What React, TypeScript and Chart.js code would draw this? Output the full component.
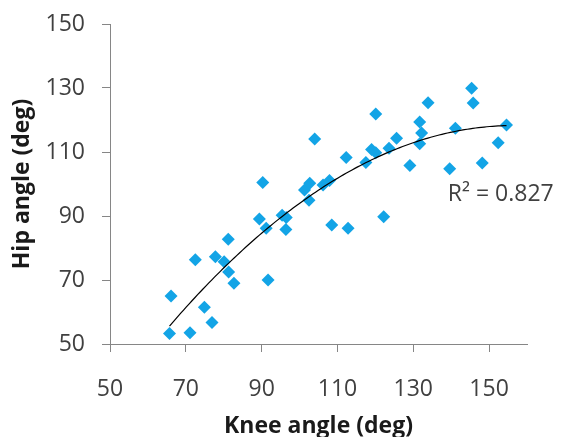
import React, { useEffect, useRef } from "react";
import { Chart, registerables } from "chart.js";

Chart.register(...registerables);

// Knee angle (deg) values
const kneeAngles: number[] = [
  65.7, 66.1, 71.1, 72.5, 74.9, 76.9, 77.8, 80.1, 81.2, 81.3,
  82.7, 89.4, 90.3, 91.2, 91.7, 95.4, 96.5, 96.4, 101.3, 102.5,
  102.7, 104.0, 106.2, 107.9, 108.5, 112.3, 112.8, 117.5, 119.0, 120.1,
  120.1, 122.2, 123.6, 125.6, 129.1, 131.7, 132.2, 131.7, 133.9, 139.6,
  141.1, 145.4, 145.8, 148.2, 152.4, 154.6,
];
// Hip angle (deg) values
const hipAngles: number[] = [
  53.3, 65.0, 53.5, 76.3, 61.5, 56.7, 77.3, 75.7, 82.7, 72.5,
  69.0, 89.1, 100.5, 86.2, 70.0, 90.2, 89.5, 85.8, 98.1, 94.9,
  100.2, 114.1, 99.7, 101.1, 87.2, 108.3, 86.2, 106.7, 110.8, 109.8,
  121.9, 89.8, 111.2, 114.3, 105.8, 119.4, 115.9, 112.6, 125.4, 104.8,
  117.4, 129.9, 125.3, 106.6, 112.9, 118.4,
];

const xTicks: number[] = [50, 70, 90, 110, 130, 150];
const yTicks: number[] = [50, 70, 90, 110, 130, 150];
const xTitle = "Knee angle (deg)";
const yTitle = "Hip angle (deg)";
const r2Label = "R\u00B2 = 0.827";
const r2Anchor = { x: 139.1, y: 96.6 }; // data coordinates of label left/middle

// least-squares quadratic fit of hip on knee
function quadFit(xs: number[], ys: number[]) {
  const n = xs.length;
  const mx = xs.reduce((a, b) => a + b, 0) / n;
  const s = [0, 0, 0, 0, 0];
  const t = [0, 0, 0];
  for (let i = 0; i < n; i++) {
    const u = xs[i] - mx;
    let p = 1;
    for (let k = 0; k < 5; k++) {
      s[k] += p;
      if (k < 3) t[k] += p * ys[i];
      p *= u;
    }
  }
  const A = [
    [s[0], s[1], s[2], t[0]],
    [s[1], s[2], s[3], t[1]],
    [s[2], s[3], s[4], t[2]],
  ];
  for (let c = 0; c < 3; c++) {
    for (let r = c + 1; r < 3; r++) {
      const f = A[r][c] / A[c][c];
      for (let k = c; k < 4; k++) A[r][k] -= f * A[c][k];
    }
  }
  const coef = [0, 0, 0];
  for (let r = 2; r >= 0; r--) {
    let v = A[r][3];
    for (let k = r + 1; k < 3; k++) v -= A[r][k] * coef[k];
    coef[r] = v / A[r][r];
  }
  return (x: number) => {
    const u = x - mx;
    return coef[0] + coef[1] * u + coef[2] * u * u;
  };
}

const r2Plugin = {
  id: "r2label",
  afterDatasetsDraw(chart: any) {
    const { ctx, scales } = chart;
    const px = scales.x.getPixelForValue(r2Anchor.x);
    const py = scales.y.getPixelForValue(r2Anchor.y);
    ctx.save();
    ctx.font = "23px 'Open Sans'";
    ctx.fillStyle = "#404040";
    ctx.textAlign = "left";
    ctx.textBaseline = "middle";
    ctx.fillText(r2Label, px, py);
    ctx.restore();
  },
};

export default function App() {
  const ref = useRef<HTMLCanvasElement | null>(null);
  useEffect(() => {
    if (!ref.current) return;
    const fit = quadFit(kneeAngles, hipAngles);
    const xmin = Math.min(...kneeAngles);
    const xmax = Math.max(...kneeAngles);
    const trend: { x: number; y: number }[] = [];
    const steps = 120;
    for (let i = 0; i <= steps; i++) {
      const x = xmin + ((xmax - xmin) * i) / steps;
      trend.push({ x, y: fit(x) });
    }
    const points = kneeAngles.map((x, i) => ({ x, y: hipAngles[i] }));
    const axisColor = "#868686";
    const chart = new Chart(ref.current, {
      type: "scatter",
      data: {
        datasets: [
          {
            type: "line",
            data: trend,
            borderColor: "#000000",
            borderWidth: 1.2,
            pointRadius: 0,
            fill: false,
            tension: 0,
            order: 0,
          } as any,
          {
            data: points,
            pointStyle: "rectRot",
            pointRadius: 6.5,
            backgroundColor: "#13a4e6",
            borderWidth: 0,
            order: 1,
          },
        ],
      },
      options: {
        animation: false,
        responsive: false,
        layout: { padding: { left: 0, top: 24, right: 34, bottom: 0 } },
        plugins: { legend: { display: false }, tooltip: { enabled: false } },
        scales: {
          x: {
            type: "linear",
            min: 50,
            max: 160,
            afterBuildTicks: (s: any) => {
              s.ticks = xTicks.map((v) => ({ value: v }));
            },
            afterFit: (s: any) => {
              s.height = 93;
              s.paddingLeft = 0;
              s.paddingRight = 0;
            },
            grid: { drawOnChartArea: false, drawTicks: true, tickLength: 8, color: axisColor },
            border: { display: true, color: axisColor, width: 1 },
            ticks: { padding: 24, color: "#404040", font: { family: "'Open Sans'", size: 23 } },
            title: {
              display: true,
              text: xTitle,
              color: "#1a1a1a",
              font: { family: "'Open Sans'", size: 23, weight: "bold" },
              padding: { top: 0, bottom: -3 },
            },
          },
          y: {
            type: "linear",
            min: 50,
            max: 150,
            afterBuildTicks: (s: any) => {
              s.ticks = yTicks.map((v) => ({ value: v }));
            },
            afterFit: (s: any) => {
              s.width = 110;
              s.paddingTop = 0;
              s.paddingBottom = 0;
            },
            grid: { drawOnChartArea: false, drawTicks: true, tickLength: 8, color: axisColor },
            border: { display: true, color: axisColor, width: 1 },
            ticks: { padding: 17, color: "#404040", font: { family: "'Open Sans'", size: 23 } },
            title: {
              display: true,
              text: yTitle,
              color: "#1a1a1a",
              font: { family: "'Open Sans'", size: 23, weight: "bold" },
              padding: { top: 9, bottom: 0 },
            },
          },
        },
      },
      plugins: [r2Plugin],
    });
    return () => chart.destroy();
  }, []);
  return (
    <div style={{ position: "fixed", left: 0, top: 0, width: 561, height: 437, background: "#fff" }}>
      <canvas ref={ref} width={561} height={437} />
    </div>
  );
}
